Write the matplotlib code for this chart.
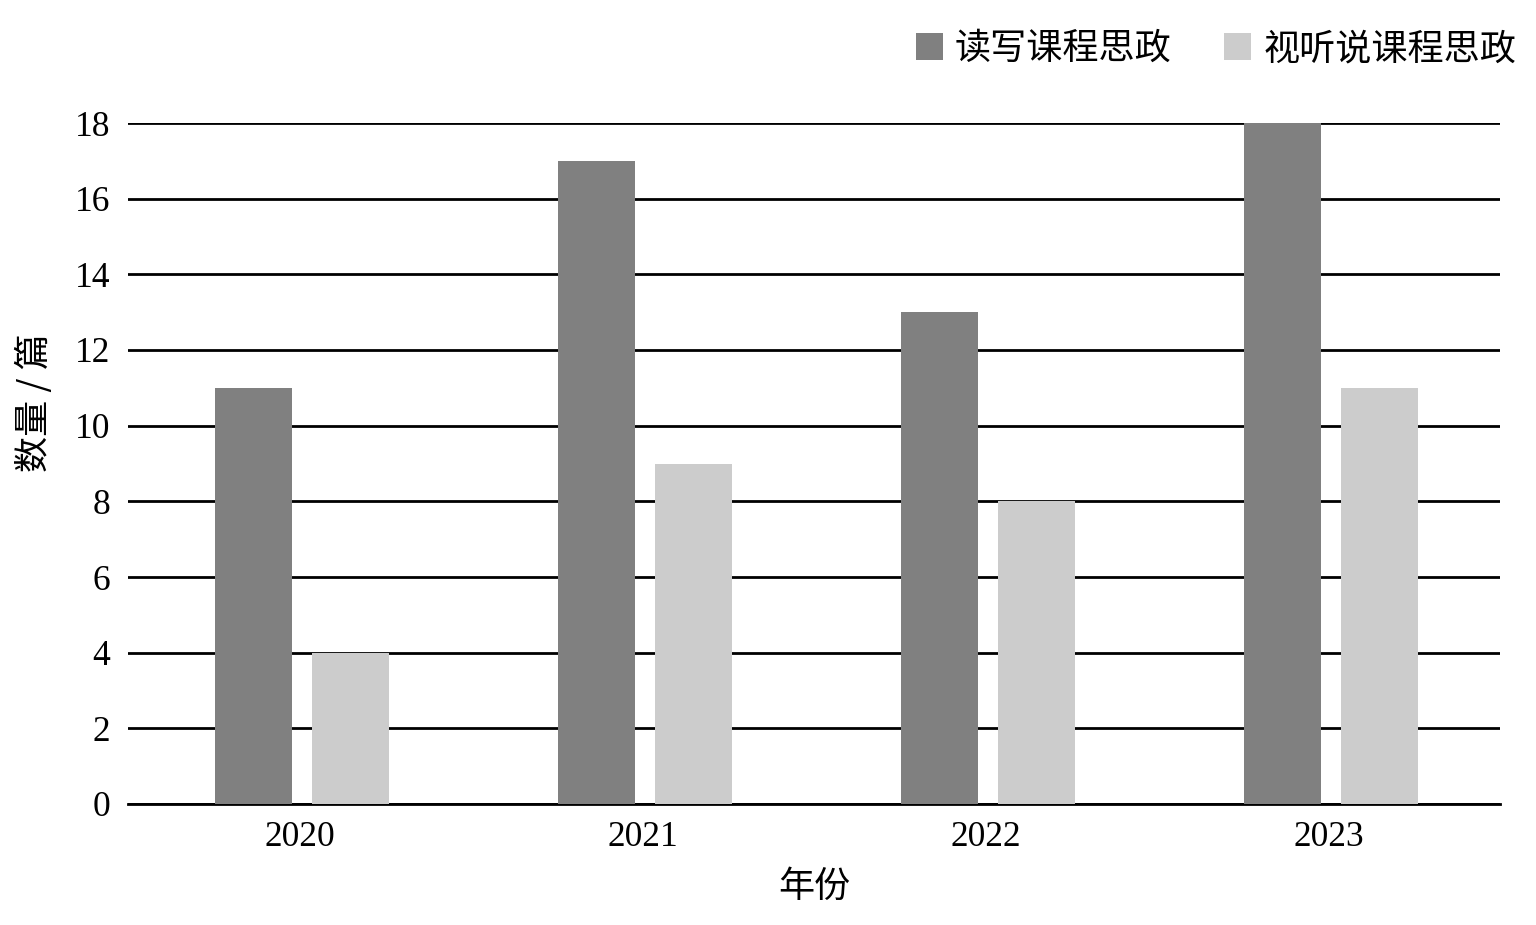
import matplotlib
matplotlib.use("Agg")
import matplotlib.pyplot as plt
import numpy as np

years = ["2020", "2021", "2022", "2023"]
series_names = ["读写课程思政", "视听说课程思政"]
reading_writing = [11, 17, 13, 18]
listening_speaking = [4, 9, 8, 11]
yticks = [0, 2, 4, 6, 8, 10, 12, 14, 16, 18]

plt.rcParams['font.family'] = ['Liberation Serif', 'Noto Sans CJK SC']

fig = plt.figure(figsize=(15.36, 9.25), dpi=100)
ax = fig.add_axes([128/1536, 1-804/925, (1500-128)/1536, (804-123)/925])

x = np.arange(len(years))
w = 0.224
ax.bar(x - 0.134, reading_writing, w, color='#808080', label=series_names[0], zorder=3)
ax.bar(x + 0.148, listening_speaking, w, color='#cccccc', label=series_names[1], zorder=3)

ax.set_xlim(-0.5, 3.5)
ax.set_ylim(0, 18)
ax.set_yticks(yticks)
ax.set_xticks(x)
ax.set_xticklabels(years)
ax.yaxis.grid(True, color='black', linewidth=2, zorder=0)
ax.set_axisbelow(True)
for s in ['top', 'right', 'left']:
    ax.spines[s].set_visible(False)
ax.spines['bottom'].set_linewidth(2)
ax.tick_params(axis='both', length=0, labelsize=25.5)
ax.tick_params(axis='y', pad=13)
ax.tick_params(axis='x', pad=12)

ax.set_xlabel('年份', fontsize=26, family=['Noto Sans CJK SC'], labelpad=11)
ax.set_ylabel('数量 / 篇', fontsize=26, family=['Noto Sans CJK SC'])
ax.yaxis.set_label_coords((53 - 128) / 1372, (804 - 403) / 681)

leg = fig.legend(loc='center right', bbox_to_anchor=(1516/1536, 1 - 49/925), ncol=2, frameon=False,
                 prop={'family': ['Noto Sans CJK SC'], 'size': 26},
                 handlelength=0.75, handleheight=0.75, handletextpad=0.33, columnspacing=1.45,
                 borderaxespad=0, borderpad=0)

fig.savefig('out.png', dpi=100)
